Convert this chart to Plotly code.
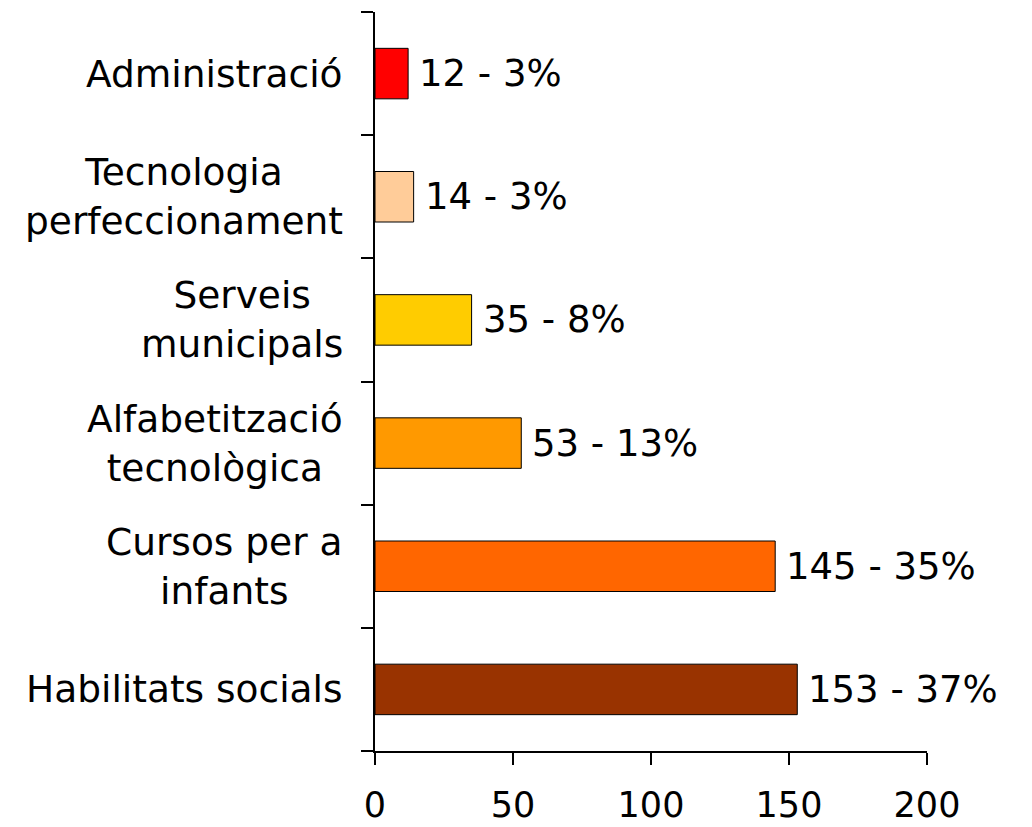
import plotly.graph_objects as go

categories = ["Habilitats socials", "Cursos per a infants", "Alfabetització tecnològica",
              "Serveis municipals", "Tecnologia perfeccionament", "Administració"]
cat_labels = ["Habilitats socials", "Cursos per a<br>infants", "Alfabetització<br>tecnològica",
              "Serveis<br>municipals", "Tecnologia<br>perfeccionament", "Administració"]
values = [153, 145, 53, 35, 14, 12]
percents = [37, 35, 13, 8, 3, 3]
colors = ["#993300", "#FF6600", "#FF9900", "#FFCC00", "#FFCC99", "#FF0000"]
x_ticks = [0, 50, 100, 150, 200]

FONT = "DejaVu Sans"

fig = go.Figure()
fig.add_trace(go.Bar(
    y=categories, x=values, orientation="h",
    marker=dict(color=colors, line=dict(color="black", width=1)),
    width=0.41, hoverinfo="skip",
))

annotations = []
for c, lab in zip(categories, cat_labels):
    annotations.append(dict(
        x=0, xref="paper", y=c, yref="y", text=lab, showarrow=False,
        xanchor="right", yanchor="middle", align="center", xshift=-30,
        font=dict(family=FONT, size=37.5, color="black")))
for c, v, p in zip(categories, values, percents):
    annotations.append(dict(
        x=v, xref="x", y=c, yref="y", text=f"{v} - {p}%", showarrow=False,
        xanchor="left", yanchor="middle", xshift=9,
        font=dict(family=FONT, size=37, color="black")))

fig.update_layout(
    template="none",
    width=1024, height=819,
    margin=dict(l=367, r=105, t=4, b=76, autoexpand=False),
    paper_bgcolor="white", plot_bgcolor="white",
    showlegend=False,
    annotations=annotations,
    font=dict(family=FONT, color="black"),
)
fig.update_xaxes(
    range=[0, 200], tickvals=x_ticks, ticktext=[str(t) for t in x_ticks],
    showgrid=False, zeroline=False, showline=True, linecolor="black", linewidth=1.5,
    ticks="outside", ticklen=12, tickwidth=1.5, tickcolor="black", automargin=False,
    tickfont=dict(family=FONT, size=35, color="black"), ticklabelstandoff=10,
)
fig.update_yaxes(
    type="category", categoryorder="array", categoryarray=categories,
    range=[-0.5, 5.5], showticklabels=False, tickson="boundaries", automargin=False,
    showgrid=False, zeroline=False, showline=True, linecolor="black", linewidth=1.5,
    ticks="outside", ticklen=12, tickwidth=1.5, tickcolor="black",
)

fig.write_html("out.html")
